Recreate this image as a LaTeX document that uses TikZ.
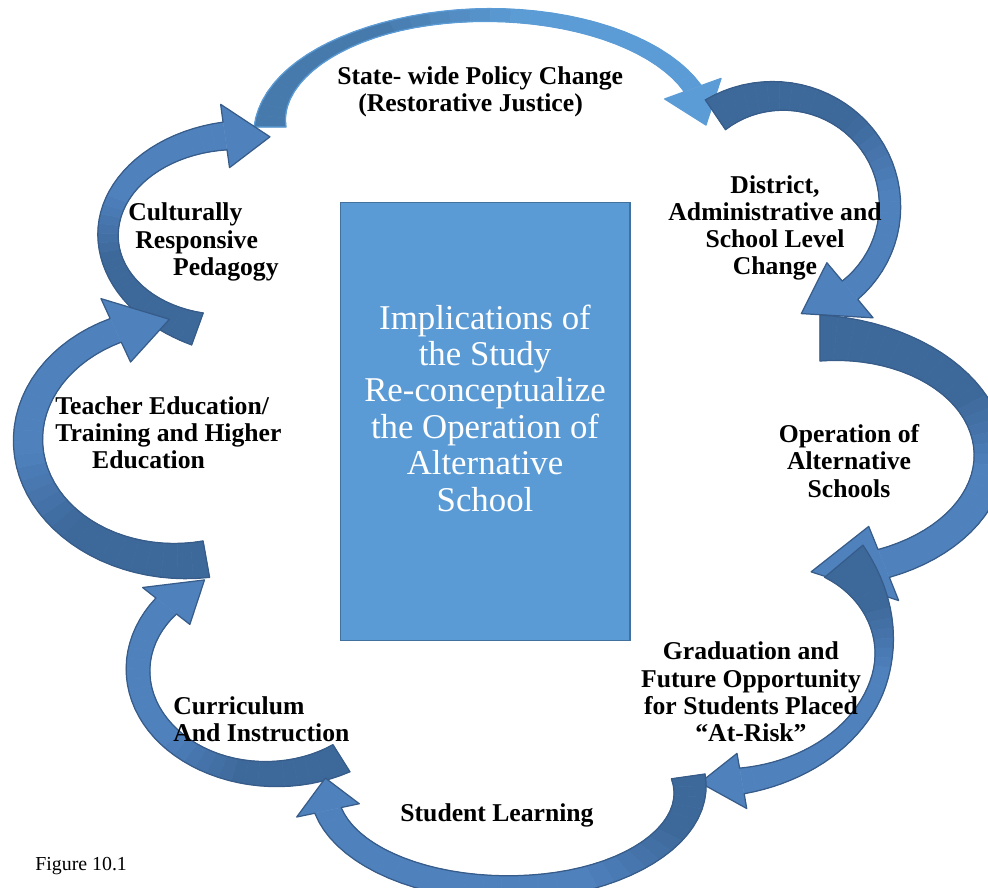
\documentclass[tikz,border=0pt]{standalone}
\usepackage{fontspec}
\setmainfont{Liberation Serif}

\definecolor{arrdark}{RGB}{61,104,154}
\definecolor{arrlight}{RGB}{79,129,189}
\definecolor{arredge}{RGB}{55,92,137}
\definecolor{topdark}{RGB}{70,122,172}
\definecolor{toplight}{RGB}{92,156,214}
\definecolor{boxfill}{RGB}{91,155,213}
\definecolor{boxedge}{RGB}{65,113,156}

\begin{document}
\begin{tikzpicture}[
  x=0.02cm, y=-0.02cm,
  declare function={
    wd(\u)=\wm+(\wa-\wm)*max(0,1-\u/\pp)^2+(\wb-\wm)*max(0,(\u-0.3)/0.7)^2;
    ang(\u)=\ta+\u*(\tb-\ta);
    px(\u,\s)=\cx+(\rx+\s*wd(\u)/2)*cos(ang(\u));
    py(\u,\s)=\cy+(\ry+\s*wd(\u)/2)*sin(ang(\u));
  },
  cyclabel/.style={font=\bfseries\fontsize{14.6}{15.5}\selectfont, inner sep=0pt},
  centrebox/.style={draw=boxedge, line width=0.6pt, fill=boxfill, minimum width=5.8cm, minimum height=8.78cm},
  centretext/.style={text=white, align=center, inner sep=0pt, font=\fontsize{19.8}{20.7}\selectfont},
  caption/.style={font=\fontsize{11.3}{13}\selectfont, inner sep=0pt}
]
\useasboundingbox (0,0) rectangle (988,888);

% curved arrows round the cycle: centre, radii, tail/base/tip angle, widths, colours
\foreach \cx/\cy/\rx/\ry/\ta/\tb/\tc/\wa/\wm/\wb/\pp/\hw/\spl/\dc/\lc/\oc in {
  488/127/218/112/-180/-20/-1/32/12/18/0.45/30/0.5/topdark/toplight/toplight,
  778/206/112/110/-124/50/78/36/20/24/0.75/36/0.55/arrdark/arrlight/arredge,
  820/455/170/117/-90/68/93/46/32/30/0.45/40/0.5/arrdark/arrlight/arredge,
  712/648/172/135/-40/80/94/50/16/26/0.45/28/0.3/arrdark/arrlight/arredge,
  244/235/136/100/110/262/281/34/20/28/0.45/32/0.5/arrdark/arrlight/arredge,
  180/440/152/121/80/245/266/37/30/26/0.45/35/0.45/arrdark/arrlight/arredge,
  271/670/133/104/58/218/240/32/22/26/0.45/30/0.4/arrdark/arrlight/arredge,
  507/790/183/98/-8/168/187/34/24/27/0.45/32/0.3/arrdark/arrlight/arredge}
{
  \foreach \k in {0,...,29}{
    \pgfmathsetmacro\ua{\k/30}
    \pgfmathsetmacro\ub{(\k+1)/30}
    \pgfmathsetmacro\fr{100*min(1,max(0,(\spl+0.12-(\k+0.5)/30)/0.24))}
    \path[fill=\dc!\fr!\lc, draw=\dc!\fr!\lc, line width=0.3pt]
      ({px(\ua,1)},{py(\ua,1)}) -- ({px(\ub,1)},{py(\ub,1)})
      -- ({px(\ub,-1)},{py(\ub,-1)}) -- ({px(\ua,-1)},{py(\ua,-1)}) -- cycle;
  }
  \path[fill=\lc] ({px(1,1)},{py(1,1)})
    -- ({\cx+(\rx+\hw)*cos(\tb)},{\cy+(\ry+\hw)*sin(\tb)})
    -- ({\cx+\rx*cos(\tc)},{\cy+\ry*sin(\tc)})
    -- ({\cx+(\rx-\hw)*cos(\tb)},{\cy+(\ry-\hw)*sin(\tb)})
    -- ({px(1,-1)},{py(1,-1)}) -- cycle;
  \draw[draw=\oc, line width=0.7pt, line join=round]
    plot[variable=\u, domain=0:1, samples=40] ({px(\u,1)},{py(\u,1)})
    -- ({\cx+(\rx+\hw)*cos(\tb)},{\cy+(\ry+\hw)*sin(\tb)})
    -- ({\cx+\rx*cos(\tc)},{\cy+\ry*sin(\tc)})
    -- ({\cx+(\rx-\hw)*cos(\tb)},{\cy+(\ry-\hw)*sin(\tb)})
    -- plot[variable=\u, domain=1:0, samples=40] ({px(\u,-1)},{py(\u,-1)}) -- cycle;
}

% centre box
\node (box) [centrebox] at (485,421.5) {};
\node (boxtext) [centretext] at ([yshift=0.27cm]box.center)
  {Implications of\\the Study\\Re-conceptualize\\the Operation of\\Alternative\\School};

% labels
\node (policy) [cyclabel, align=left, anchor=west] at (337,91.5)
  {State- wide Policy Change\\\hspace*{12pt}(Restorative Justice)};
\node (district) [cyclabel, align=center] at (775,228)
  {District,\\Administrative and\\School Level\\Change};
\node (operation) [cyclabel, align=center] at (849,461)
  {Operation of\\Alternative\\Schools};
\node (graduation) [cyclabel, align=center] at (751,692)
  {Graduation and\\Future Opportunity\\for Students Placed\\“At-Risk”};
\node (learning) [cyclabel] at (497,815) {Student Learning};
\node (curriculum) [cyclabel, align=left, anchor=west] at (173,719)
  {Curriculum\\And Instruction};
\node (teacher) [cyclabel, align=left, anchor=west] at (55,433)
  {Teacher Education/\\Training and Higher\\\hspace*{21pt}Education};
\node (pedagogy) [cyclabel, align=left, anchor=west] at (128,242)
  {Culturally\\\hspace*{4pt}Responsive\\\hspace*{25.5pt}Pedagogy};

\node (figcap) [caption, anchor=west] at (35,866) {Figure 10.1};
\end{tikzpicture}
\end{document}
